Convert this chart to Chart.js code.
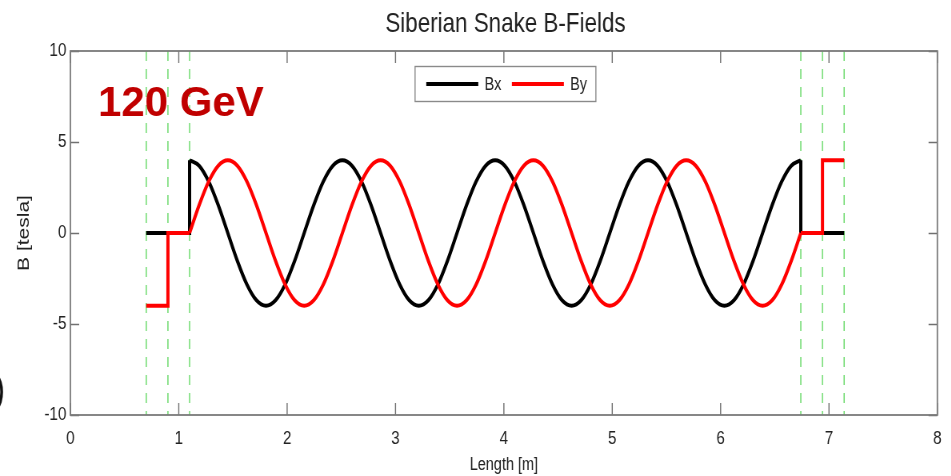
<!DOCTYPE html>
<html>
<head>
<meta charset="utf-8">
<script src="https://cdn.jsdelivr.net/npm/chart.js@4/dist/chart.umd.min.js"></script>
<style>
  html, body { margin: 0; padding: 0; background: #fff; overflow: hidden; }
  #wrap { position: absolute; left: 0; top: 0; width: 1189px; height: 476px;
          transform: scaleX(0.8); transform-origin: 0 0; }
</style>
</head>
<body>
<div id="wrap"><canvas id="c" width="1189" height="476" style="width:1189px;height:476px"></canvas></div>
<script>
// ---- data ----
const chartTitle = 'Siberian Snake B-Fields';
const xAxisTitle = 'Length [m]';
const yAxisTitle = 'B [tesla]';
const energyLabel = '120 GeV';
const seriesNames = ['Bx', 'By'];

const xTicks = [0, 1, 2, 3, 4, 5, 6, 7, 8];
const yTicks = [-10, -5, 0, 5, 10];

// magnet boundaries (green dashed lines)
const magnetEdges = [0.70, 0.90, 1.10, 6.74, 6.94, 7.14];

// helical section sample positions (m)
const waveLength = [
  1.1000, 1.1881, 1.2763, 1.3644, 1.4525, 1.5406, 1.6288, 1.7169,
  1.8050, 1.8931, 1.9813, 2.0694, 2.1575, 2.2456, 2.3338, 2.4219,
  2.5100, 2.5981, 2.6863, 2.7744, 2.8625, 2.9506, 3.0388, 3.1269,
  3.2150, 3.3031, 3.3913, 3.4794, 3.5675, 3.6556, 3.7438, 3.8319,
  3.9200, 4.0081, 4.0963, 4.1844, 4.2725, 4.3606, 4.4488, 4.5369,
  4.6250, 4.7131, 4.8013, 4.8894, 4.9775, 5.0656, 5.1538, 5.2419,
  5.3300, 5.4181, 5.5063, 5.5944, 5.6825, 5.7706, 5.8588, 5.9469,
  6.0350, 6.1231, 6.2113, 6.2994, 6.3875, 6.4756, 6.5638, 6.6519,
  6.7400];
const bxWave = [
  4, 3.70, 2.83, 1.53, 0, -1.53, -2.83, -3.70,
  -4, -3.70, -2.83, -1.53, 0, 1.53, 2.83, 3.70,
  4, 3.70, 2.83, 1.53, 0, -1.53, -2.83, -3.70,
  -4, -3.70, -2.83, -1.53, 0, 1.53, 2.83, 3.70,
  4, 3.70, 2.83, 1.53, 0, -1.53, -2.83, -3.70,
  -4, -3.70, -2.83, -1.53, 0, 1.53, 2.83, 3.70,
  4, 3.70, 2.83, 1.53, 0, -1.53, -2.83, -3.70,
  -4, -3.70, -2.83, -1.53, 0, 1.53, 2.83, 3.70,
  4];
const byWave = [
  0, 1.53, 2.83, 3.70, 4, 3.70, 2.83, 1.53,
  0, -1.53, -2.83, -3.70, -4, -3.70, -2.83, -1.53,
  0, 1.53, 2.83, 3.70, 4, 3.70, 2.83, 1.53,
  0, -1.53, -2.83, -3.70, -4, -3.70, -2.83, -1.53,
  0, 1.53, 2.83, 3.70, 4, 3.70, 2.83, 1.53,
  0, -1.53, -2.83, -3.70, -4, -3.70, -2.83, -1.53,
  0, 1.53, 2.83, 3.70, 4, 3.70, 2.83, 1.53,
  0, -1.53, -2.83, -3.70, -4, -3.70, -2.83, -1.53,
  0];

// entry / exit step sections
const bxEntryLength = [0.70, 1.10, 1.10];
const bxEntryValues = [0, 0, 4];
const bxExitLength = [6.74, 6.74, 7.14];
const bxExitValues = [4, 0, 0];
const byEntryLength = [0.70, 0.90, 0.90, 1.10];
const byEntryValues = [-4, -4, 0, 0];
const byExitLength = [6.74, 6.94, 6.94, 7.14];
const byExitValues = [0, 0, 4, 4];

// ---- build ----
const K = 0.8; // horizontal compression of the original figure
const BX_COLOR = '#000000';
const BY_COLOR = '#ff0000';
const FONT = "'Liberation Sans', Arial, Helvetica, sans-serif";

function pts(xs, ys) { return xs.map((x, i) => ({ x: x, y: ys[i] })); }

function ds(name, xs, ys, color, order, smooth) {
  return {
    label: name,
    data: pts(xs, ys),
    borderColor: color,
    backgroundColor: color,
    borderWidth: 4,
    pointRadius: 0,
    fill: false,
    order: order,
    tension: smooth ? 0.4 : 0,
    cubicInterpolationMode: smooth ? 'monotone' : 'default',
    borderJoinStyle: 'miter',
    borderCapStyle: 'butt'
  };
}

const datasets = [
  ds(seriesNames[1], byEntryLength, byEntryValues, BY_COLOR, 0, false),
  ds(seriesNames[1], waveLength, byWave, BY_COLOR, 0, true),
  ds(seriesNames[1], byExitLength, byExitValues, BY_COLOR, 0, false),
  ds(seriesNames[0], bxEntryLength, bxEntryValues, BX_COLOR, 1, false),
  ds(seriesNames[0], waveLength, bxWave, BX_COLOR, 1, true),
  ds(seriesNames[0], bxExitLength, bxExitValues, BX_COLOR, 1, false)
];

const framePlugin = {
  id: 'frame',
  beforeDatasetsDraw(chart) {
    const { ctx, chartArea: a, scales: { x, y } } = chart;
    ctx.save();
    // title centred over the axes
    ctx.fillStyle = '#222';
    ctx.font = '28px ' + FONT;
    ctx.textAlign = 'center';
    ctx.textBaseline = 'alphabetic';
    ctx.fillText(chartTitle, (a.left + a.right) / 2 + 2, 32);

    // magnet edges
    ctx.strokeStyle = '#77dd77';
    ctx.lineWidth = 1.6;
    ctx.setLineDash([10, 8]);
    magnetEdges.forEach(v => {
      const px = x.getPixelForValue(v);
      ctx.beginPath();
      ctx.moveTo(px, a.top);
      ctx.lineTo(px, a.bottom);
      ctx.stroke();
    });
    ctx.setLineDash([]);
    // inward ticks
    ctx.strokeStyle = '#707070';
    ctx.lineWidth = 1.4;
    xTicks.forEach(v => {
      const px = x.getPixelForValue(v);
      ctx.beginPath();
      ctx.moveTo(px, a.bottom); ctx.lineTo(px, a.bottom - 12);
      ctx.moveTo(px, a.top); ctx.lineTo(px, a.top + 12);
      ctx.stroke();
    });
    yTicks.forEach(v => {
      const py = Math.round(y.getPixelForValue(v)) + 0.5;
      ctx.beginPath();
      ctx.moveTo(a.left, py); ctx.lineTo(a.left + 11, py);
      ctx.moveTo(a.right, py); ctx.lineTo(a.right - 11, py);
      ctx.stroke();
    });
    ctx.restore();
  },
  afterDatasetsDraw(chart) {
    const { ctx, chartArea: a } = chart;
    ctx.save();
    // axes box
    ctx.strokeStyle = '#7a7a7a';
    ctx.lineWidth = 1.8;
    ctx.strokeRect(a.left, a.top, a.right - a.left, a.bottom - a.top);

    // legend box inside the axes
    const cx = (a.left + a.right) / 2;
    const bx0 = cx - 111, by0 = a.top + 15, bw = 226, bh = 35;
    ctx.fillStyle = '#ffffff';
    ctx.fillRect(bx0, by0, bw, bh);
    ctx.strokeStyle = '#8a8a8a';
    ctx.lineWidth = 1.4;
    ctx.strokeRect(bx0, by0 + 0.5, bw, bh);
    const ly = by0 + bh / 2 + 0.5;
    const items = [
      { name: seriesNames[0], color: BX_COLOR, x: bx0 + 14 },
      { name: seriesNames[1], color: BY_COLOR, x: bx0 + 121 }
    ];
    ctx.font = '18px ' + FONT;
    ctx.textBaseline = 'middle';
    ctx.textAlign = 'left';
    items.forEach(it => {
      ctx.strokeStyle = it.color;
      ctx.lineWidth = 4;
      ctx.beginPath();
      ctx.moveTo(it.x, ly); ctx.lineTo(it.x + 65, ly);
      ctx.stroke();
      ctx.fillStyle = '#222';
      ctx.fillText(it.name, it.x + 73, ly + 1);
    });

    // energy annotation (not compressed in the original)
    ctx.save();
    ctx.translate(98 / K, 116);
    ctx.scale(1 / K, 1);
    ctx.fillStyle = '#c00000';
    ctx.font = 'bold 42px ' + FONT;
    ctx.textBaseline = 'alphabetic';
    ctx.fillText(energyLabel, 0, 0);
    ctx.restore();

    // cropped fragment at the left edge
    ctx.fillStyle = '#111';
    ctx.font = '40px ' + FONT;
    ctx.textBaseline = 'alphabetic';
    ctx.fillText(')', -7, 403);
    ctx.restore();
  }
};

new Chart(document.getElementById('c'), {
  type: 'line',
  data: { datasets: datasets },
  plugins: [framePlugin],
  options: {
    responsive: false,
    animation: false,
    devicePixelRatio: 1,
    layout: { padding: { left: 0, right: 14, top: 51, bottom: 0 } },
    plugins: {
      legend: { display: false },
      tooltip: { enabled: false },
      title: { display: false }
    },
    scales: {
      x: {
        type: 'linear',
        min: 0, max: 8,
        afterFit(s) { s.height = 61; },
        afterBuildTicks(s) { s.ticks = xTicks.map(v => ({ value: v })); },
        grid: { display: false, drawTicks: false, tickLength: 0 },
        border: { display: false },
        ticks: { color: '#222', padding: 12, font: { family: FONT, size: 19 }, maxRotation: 0 },
        title: {
          display: true, text: xAxisTitle, color: '#222',
          font: { family: FONT, size: 18 }, padding: { top: 0, bottom: 0 }
        }
      },
      y: {
        type: 'linear',
        min: -10, max: 10,
        afterFit(s) { s.width = 88; },
        afterBuildTicks(s) { s.ticks = yTicks.map(v => ({ value: v })); },
        grid: { display: false, drawTicks: false, tickLength: 0 },
        border: { display: false },
        ticks: { color: '#222', padding: 5, font: { family: FONT, size: 19 } },
        title: {
          display: true, text: yAxisTitle, color: '#222',
          font: { family: FONT, size: 21 }, padding: { top: 18, bottom: 0 }
        }
      }
    }
  }
});
</script>
</body>
</html>
